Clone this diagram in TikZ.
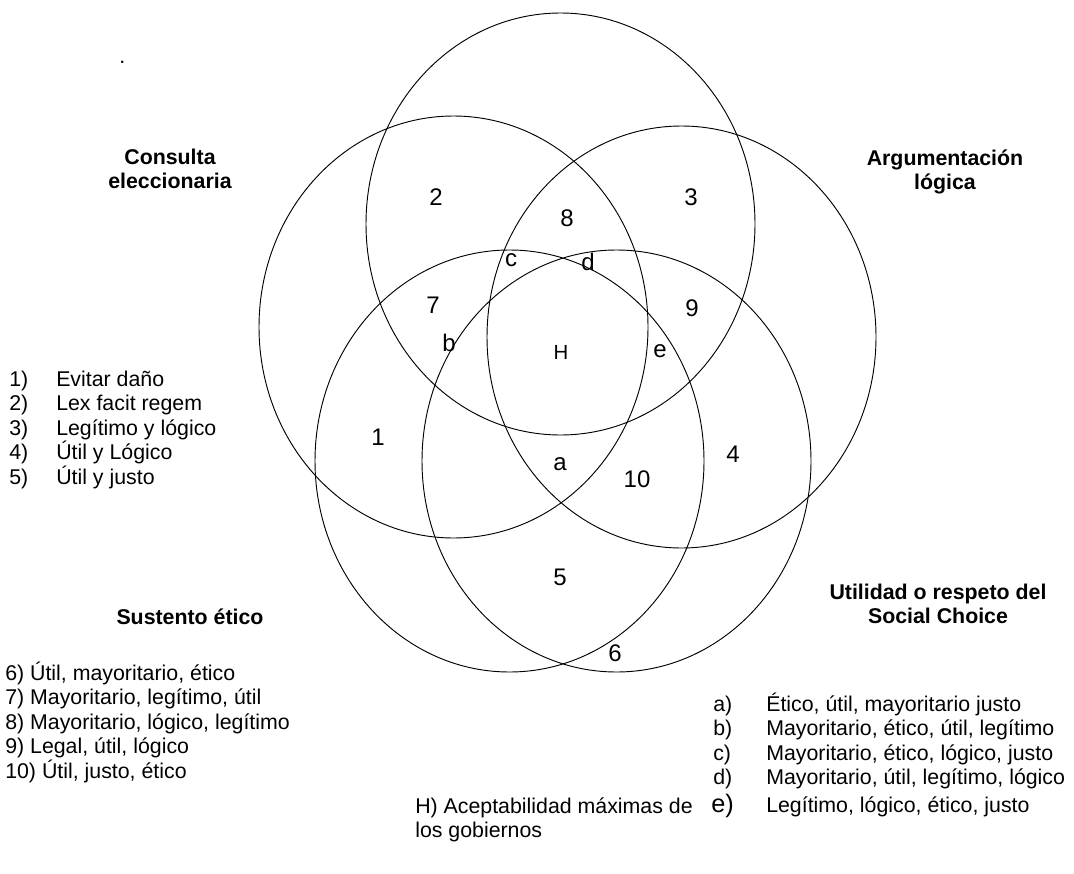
\documentclass[tikz,border=0pt]{standalone}
\usepackage{fontspec}
\setmainfont{Liberation Sans}
\begin{document}
\begin{tikzpicture}[x=0.75pt,y=-0.75pt,
    set/.style={line width=0.7pt},
    zone/.style={font=\fontsize{18}{21}\selectfont, inner sep=0pt},
    hdr/.style={font=\bfseries\fontsize{16}{18}\selectfont, align=center, inner sep=0pt},
    item/.style={font=\fontsize{16}{18}\selectfont, anchor=base west, inner sep=0pt}]
  \useasboundingbox (0,0) rectangle (1074,874);
  % the five sets
  \draw[set] (560.5,224) ellipse (194.5 and 211);
  \draw[set] (453.5,327) ellipse (194.5 and 211);
  \draw[set] (681.5,337) ellipse (194.5 and 211);
  \draw[set] (509.5,461) ellipse (194.5 and 211);
  \draw[set] (616.5,461) ellipse (194.5 and 211);
  % titles of the sets
  \node[hdr] (consulta) at (170,169) {Consulta\\eleccionaria};
  \node[hdr] (argum) at (945,172) {Argumentación\\lógica};
  \node[hdr] (sustento) at (190,617) {Sustento ético};
  \node[hdr] (utilidad) at (938,604) {Utilidad o respeto del\\Social Choice};
  \node[item] (dot) at (119,64) {.};
  % zones
  \node[zone] (z2) at (436,197) {2};
  \node[zone] (z3) at (691,197) {3};
  \node[zone] (z8) at (567,218) {8};
  \node[zone] (zc) at (511,260) {c};
  \node[zone] (zd) at (588,262) {d};
  \node[zone] (z7) at (433,305) {7};
  \node[zone] (z9) at (692,308) {9};
  \node[zone] (zb) at (449,343) {b};
  \node[zone, font=\fontsize{15.3}{18}\selectfont] (zH) at (561,352) {H};
  \node[zone] (ze) at (660,351) {e};
  \node[zone] (z1) at (378,437) {1};
  \node[zone] (z4) at (733,454) {4};
  \node[zone] (za) at (560,464) {a};
  \node[zone] (z10) at (637,479) {10};
  \node[zone] (z5) at (560,577) {5};
  \node[zone] (z6) at (615,653) {6};
  % list 1 - 5
  \foreach \num/\txt [count=\i] in {1)/Evitar daño, 2)/Lex facit regem,
      3)/Legítimo y lógico, 4)/Útil y Lógico, 5)/Útil y justo}{
    \node[item] (n\i) at (9,361.5+24.5*\i) {\num};
    \node[item] (t\i) at (56,361.5+24.5*\i) {\txt};
  }
  % list 6 - 10
  \node[item] (t6) at (5,680) {6) Útil, mayoritario, ético};
  \node[item] (t7) at (5,704.5) {7) Mayoritario, legítimo, útil};
  \node[item] (t8) at (5,729) {8) Mayoritario, lógico, legítimo};
  \node[item] (t9) at (5,753.5) {9) Legal, útil, lógico};
  \node[item] (t10) at (5,778) {10) Útil, justo, ético};
  % list a - e
  \node[item] (na) at (713,711) {a)};
  \node[item] (ta) at (766,711) {Ético, útil, mayoritario justo};
  \node[item] (nb) at (713,735.5) {b)};
  \node[item] (tb) at (766,735.5) {Mayoritario, ético, útil, legítimo};
  \node[item] (nc) at (713,760) {c)};
  \node[item] (tc) at (766,760) {Mayoritario, ético, lógico, justo};
  \node[item] (nd) at (713,784.5) {d)};
  \node[item] (td) at (766,784.5) {Mayoritario, útil, legítimo, lógico};
  \node[item, font=\fontsize{19}{21}\selectfont] (ne) at (711,812) {e)};
  \node[item] (te) at (766,812) {Legítimo, lógico, ético, justo};
  % H
  \node[item] (th1) at (415,813) {H) Aceptabilidad máximas de};
  \node[item] (th2) at (415,837.5) {los gobiernos};
\end{tikzpicture}
\end{document}
